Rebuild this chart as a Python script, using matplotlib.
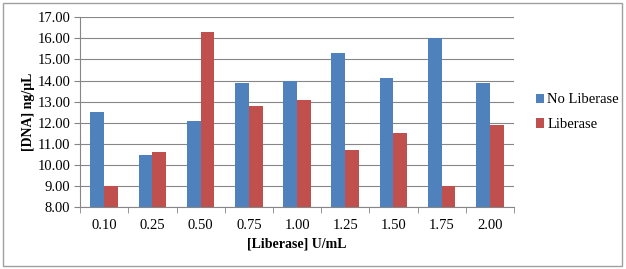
import numpy as np
import matplotlib
matplotlib.use("Agg")
from matplotlib import pyplot as plt
from matplotlib.patches import Rectangle

categories = ["0.10", "0.25", "0.50", "0.75", "1.00", "1.25", "1.50", "1.75", "2.00"]
no_liberase = [12.5, 10.5, 12.1, 13.9, 14.0, 15.3, 14.1, 16.0, 13.9]
liberase = [9.0, 10.6, 16.3, 12.8, 13.1, 10.7, 11.5, 9.0, 11.9]
yticks = np.arange(8, 17.01, 1.0)

plt.rcParams['font.family'] = ['Liberation Serif', 'DejaVu Serif']

fig = plt.figure(figsize=(6.26, 2.69), dpi=100)
ax = fig.add_axes([0.128, 0.229, 0.693, 0.707])

x = np.arange(len(categories))
w = 1 / 3.5
ax.bar(x - w / 2, np.array(no_liberase) - 8, w, bottom=8, color="#4F81BD", label="No Liberase", zorder=3)
ax.bar(x + w / 2, np.array(liberase) - 8, w, bottom=8, color="#C0504D", label="Liberase", zorder=3)

ax.set_xlim(-0.5, len(categories) - 0.5)
ax.set_ylim(8, 17)
ax.set_yticks(yticks)
ax.set_yticklabels([f"{v:.2f}" for v in yticks], fontsize=10.5)
ax.set_xticks(x)
ax.set_xticklabels(categories, fontsize=10.5)
ax.set_xticks(np.arange(-0.5, len(categories)), minor=True)
ax.tick_params(axis="x", which="major", length=0, pad=8)
ax.tick_params(axis="x", which="minor", length=4, color="#868686", direction="out")
ax.tick_params(axis="y", length=4, color="#868686", direction="out", pad=3)
ax.yaxis.grid(True, color="#868686", linewidth=0.8, zorder=0)
for s in ["top", "right"]:
    ax.spines[s].set_visible(False)
for s in ["left", "bottom"]:
    ax.spines[s].set_color("#868686")

ax.set_ylabel("[DNA] ng/\u03bcL", fontsize=10, fontweight="bold", labelpad=2)
ax.set_xlabel("[Liberase] U/mL", fontsize=10, fontweight="bold", labelpad=4)

ax.legend(loc="center left", bbox_to_anchor=(1.02, 0.5), frameon=False,
          prop={"family": "Liberation Serif", "size": 10.5},
          handlelength=0.6, handleheight=0.6, handletextpad=0.2, labelspacing=0.8)

fig.patches.append(Rectangle((0.005, 0.012), 0.988, 0.975, transform=fig.transFigure,
                             fill=False, edgecolor="#A0A0A0", linewidth=1))

fig.savefig("out.png", dpi=100)
